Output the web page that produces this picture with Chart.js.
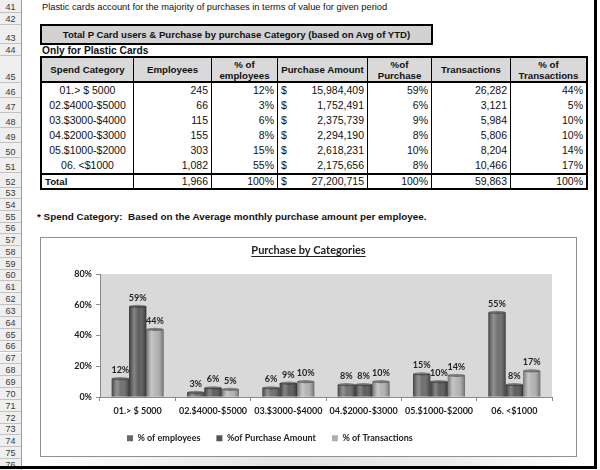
<!DOCTYPE html>
<html>
<head>
<meta charset="utf-8">
<title>Purchase by Categories</title>
<script src="https://cdn.jsdelivr.net/npm/chart.js@4.4.1/dist/chart.umd.min.js"></script>
<style>
  html, body { margin: 0; padding: 0; background: #fff; }
  #sheet { position: relative; width: 600px; height: 470px; overflow: hidden; background: #fff;
           font-family: "Liberation Sans", Arial, sans-serif; color: #111; }
  #rowHeads div { position: absolute; left: 0; width: 22px; box-sizing: border-box; background: #efefef;
                  border-right: 1px solid #9c9c9c; border-bottom: 1px solid #c2c2c2; font-size: 9px; line-height: 10px;
                  color: #3a3a3a; display: flex; align-items: flex-end; justify-content: center; }
  #intro { position: absolute; left: 42px; top: 2px; font-size: 9.3px; line-height: 11px; white-space: nowrap; }
  #banner { position: absolute; left: 40px; top: 24px; width: 393px; height: 21px; box-sizing: border-box;
            border: 2px solid #000; background: #d2d2d2; font-weight: bold; font-size: 9.6px;
            text-align: center; line-height: 17px; white-space: nowrap; }
  #onlyPlastic { position: absolute; left: 42px; top: 45px; font-weight: bold; font-size: 10.2px; line-height: 12px; }
  #tbl { position: absolute; left: 40px; top: 56px; width: 548px; border-collapse: separate; border-spacing: 0;
         border: 2px solid #000; table-layout: fixed; box-sizing: border-box; }
  #tbl th, #tbl td { box-sizing: border-box; border-right: 1px solid #000; padding: 0 3px; white-space: nowrap; overflow: hidden; }
  #tbl th:last-child, #tbl td:last-child { border-right: none; }
  #tbl th { height: 25px; background: #d9d9d9; border-bottom: 2px solid #000; font-size: 9.7px; line-height: 11px;
            font-weight: bold; text-align: center; }
  #tbl td { height: 15px; font-family: "Liberation Sans Narrow", "Liberation Sans", sans-serif; font-size: 10.5px;
            line-height: 13px; text-align: right; }
  #tbl td.cat { text-align: center; }
  #tbl tr.total td { border-top: 2px solid #000; }
  #tbl tr.total td.cat { text-align: left; font-family: "Liberation Sans", Arial, sans-serif; font-weight: bold; font-size: 9.7px; }
  #tbl .cur { float: left; }
  #note { position: absolute; left: 37px; top: 211px; font-weight: bold; font-size: 9.9px; line-height: 12px; white-space: nowrap; }
  #chartBox { position: absolute; left: 40px; top: 237px; width: 537px; height: 220px; box-sizing: border-box;
              border: 1px solid #8f8f8f; background: #fff; }
  #shadow { position: absolute; left: 40px; top: 457px; width: 537px; height: 9px;
            background: linear-gradient(90deg, #fff 0%, #dcdcdc 45%, #e8e8e8 75%, #fff 100%); opacity: 0.8; }
  #chartWrap { position: absolute; left: 40px; top: 238px; width: 537px; height: 218px; }
  #frameR { position: absolute; left: 594px; top: 0; width: 3px; height: 469px; background: #000; }
  #frameB { position: absolute; left: 0; top: 466px; width: 597px; height: 3px; background: #000; }
</style>
</head>
<body>
<div id="sheet">
  <div id="rowHeads"></div>
  <div id="intro">Plastic cards account for the majority of purchases in terms of value for given period</div>
  <div id="banner">Total P Card users &amp; Purchase by purchase Category (based on Avg of YTD)</div>
  <div id="onlyPlastic">Only for Plastic Cards</div>
  <table id="tbl"></table>
  <div id="note">* Spend Category:&nbsp; Based on the Average monthly purchase amount per employee.</div>
  <div id="chartBox"></div>
  <div id="shadow"></div>
  <div id="chartWrap"><canvas id="purchaseChart" width="537" height="218"></canvas></div>
  <div id="frameR"></div>
  <div id="frameB"></div>
</div>

<script>
// data from the sheet
const categories = ['01.> $ 5000', '02.$4000-$5000', '03.$3000-$4000', '04.$2000-$3000', '05.$1000-$2000', '06. <$1000'];
const employees = [245, 66, 115, 155, 303, 1082];
const pctEmployees = [12, 3, 6, 8, 15, 55];
const purchaseAmount = [15984409, 1752491, 2375739, 2294190, 2618231, 2175656];
const pctPurchase = [59, 6, 9, 8, 10, 8];
const transactions = [26282, 3121, 5984, 5806, 8204, 10466];
const pctTransactions = [44, 5, 10, 10, 14, 17];
const totalRow = ['1,966', '100%', '27,200,715', '100%', '59,863', '100%'];
const headers = ['Spend Category', 'Employees', '% of<br>employees', 'Purchase Amount', '%of<br>Purchase', 'Transactions', '% of<br>Transactions'];
const seriesNames = ['% of employees', '%of Purchase Amount', '% of Transactions'];
const yTicks = [0, 20, 40, 60, 80];

// sheet row numbers down the left side
const rowNumbers = [41, 42, 43, 44, 45, 46, 47, 48, 49, 50, 51, 52, 53, 54, 55, 56,
                    57, 58, 59, 60, 61, 62, 63, 64, 65, 66, 67, 68, 69, 70, 71, 72, 73, 74, 75, 76];
const rowHeights = [13, 12, 19, 12, 27, 15, 15, 15, 15, 15, 15, 15, 11, 12, 12, 11];
const chartRowHeight = 11.85;

const fmt = n => n.toLocaleString('en-US');

document.addEventListener('DOMContentLoaded', function() {
    // row headers
    const rowHeads = document.getElementById('rowHeads');
    let top = 0;
    rowNumbers.forEach((num, i) => {
        const h = i < rowHeights.length ? rowHeights[i] : chartRowHeight;
        const cell = document.createElement('div');
        cell.style.top = top + 'px';
        cell.style.height = h + 'px';
        cell.textContent = num;
        rowHeads.appendChild(cell);
        top += h;
    });

    // table
    const colWidths = [92, 78, 66, 90, 64, 79, 75];
    let html = '<tr>' + headers.map((h, i) => `<th style="width:${colWidths[i]}px">${h}</th>`).join('') + '</tr>';
    categories.forEach((cat, i) => {
        html += '<tr>' +
            `<td class="cat">${cat.replace('<', '&lt;')}</td>` +
            `<td>${fmt(employees[i])}</td>` +
            `<td>${pctEmployees[i]}%</td>` +
            `<td><span class="cur">$</span>${fmt(purchaseAmount[i])}</td>` +
            `<td>${pctPurchase[i]}%</td>` +
            `<td>${fmt(transactions[i])}</td>` +
            `<td>${pctTransactions[i]}%</td>` +
            '</tr>';
    });
    html += '<tr class="total"><td class="cat">Total</td>' +
        `<td>${totalRow[0]}</td><td>${totalRow[1]}</td>` +
        `<td><span class="cur">$</span>${totalRow[2]}</td>` +
        `<td>${totalRow[3]}</td><td>${totalRow[4]}</td><td>${totalRow[5]}</td></tr>`;
    document.getElementById('tbl').innerHTML = html;

    initPurchaseChart();
});

// gray plot area
const plotBackground = {
    id: 'plotBackground',
    beforeDraw(chart) {
        const { ctx, chartArea: a } = chart;
        ctx.save();
        ctx.fillStyle = '#d9d9d9';
        ctx.fillRect(a.left, a.top, a.right - a.left, a.bottom - a.top);
        ctx.restore();
    }
};

// cylinder shading + value labels
const cylinderBars = {
    id: 'cylinderBars',
    afterDatasetsDraw(chart) {
        const ctx = chart.ctx;
        ctx.save();
        chart.data.datasets.forEach((ds, i) => {
            chart.getDatasetMeta(i).data.forEach(bar => {
                const p = bar.getProps(['x', 'y', 'base', 'width'], true);
                const left = p.x - p.width / 2;
                const g = ctx.createLinearGradient(left, 0, left + p.width, 0);
                g.addColorStop(0, 'rgba(0,0,0,0.35)');
                g.addColorStop(0.3, 'rgba(255,255,255,0.28)');
                g.addColorStop(0.55, 'rgba(255,255,255,0.05)');
                g.addColorStop(1, 'rgba(0,0,0,0.4)');
                ctx.fillStyle = g;
                ctx.fillRect(left, p.y, p.width, p.base - p.y);
                ctx.beginPath();
                ctx.ellipse(p.x, p.y, p.width / 2, 1.6, 0, 0, Math.PI * 2);
                ctx.fillStyle = 'rgba(40,40,40,0.5)';
                ctx.fill();
            });
        });
        ctx.font = 'bold 9px Lato';
        ctx.fillStyle = '#222';
        ctx.textAlign = 'center';
        ctx.textBaseline = 'bottom';
        chart.data.datasets.forEach((ds, i) => {
            chart.getDatasetMeta(i).data.forEach((bar, j) => {
                ctx.fillText(ds.data[j] + '%', bar.x, bar.y - 4);
            });
        });
        ctx.restore();
    }
};

// underline under the chart title
const titleUnderline = {
    id: 'titleUnderline',
    afterDraw(chart) {
        const t = chart.titleBlock;
        const opts = chart.options.plugins.title;
        const ctx = chart.ctx;
        ctx.save();
        ctx.font = `bold ${opts.font.size}px Lato`;
        const w = ctx.measureText(opts.text).width;
        const cx = (t.left + t.right) / 2;
        const y = Math.round(t.top + opts.padding.top + opts.font.size * 0.6 + 5) + 0.5;
        ctx.strokeStyle = '#222';
        ctx.lineWidth = 1;
        ctx.beginPath();
        ctx.moveTo(cx - w / 2, y);
        ctx.lineTo(cx + w / 2, y);
        ctx.stroke();
        ctx.restore();
    }
};

// nudge the legend row a little to the right, like the sheet
const legendNudge = {
    id: 'legendNudge',
    afterLayout(chart) {
        chart.legend.left += 11;
        chart.legend.right += 11;
    }
};

let purchaseChart;

function initPurchaseChart() {
    Chart.defaults.font.family = 'Lato';
    Chart.defaults.color = '#222';

    const ctx = document.getElementById('purchaseChart');
    purchaseChart = new Chart(ctx, {
        type: 'bar',
        data: {
            labels: categories,
            datasets: [{
                label: seriesNames[0],
                data: pctEmployees,
                backgroundColor: '#686868'
            }, {
                label: seriesNames[1],
                data: pctPurchase,
                backgroundColor: '#555555'
            }, {
                label: seriesNames[2],
                data: pctTransactions,
                backgroundColor: '#b0b0b0'
            }]
        },
        options: {
            responsive: false,
            animation: false,
            categoryPercentage: 0.69,
            barPercentage: 1.0,
            layout: {
                padding: { top: 0, right: 25, bottom: 3.2, left: 25 }
            },
            scales: {
                x: {
                    grid: {
                        drawOnChartArea: false,
                        drawTicks: true,
                        tickLength: 4,
                        color: '#8a8a8a'
                    },
                    border: { color: '#8a8a8a' },
                    ticks: {
                        padding: 5,
                        maxRotation: 0,
                        minRotation: 0,
                        autoSkip: false,
                        font: { size: 9, weight: 'bold' },
                        color: '#222'
                    },
                    afterFit: function(scale) {
                        scale.height = 20.8;
                    }
                },
                y: {
                    min: 0,
                    max: 80,
                    grid: {
                        drawOnChartArea: false,
                        tickLength: 4,
                        color: '#8a8a8a'
                    },
                    border: { color: '#8a8a8a' },
                    ticks: {
                        padding: 4,
                        font: { size: 9, weight: 'bold' },
                        color: '#222',
                        callback: function(value) {
                            return value + '%';
                        }
                    },
                    afterBuildTicks: function(scale) {
                        scale.ticks = yTicks.map(v => ({ value: v }));
                    },
                    afterFit: function(scale) {
                        scale.width = 35;
                    }
                }
            },
            plugins: {
                title: {
                    display: true,
                    text: 'Purchase by Categories',
                    font: { size: 11, weight: 'bold' },
                    color: '#222',
                    padding: { top: 6, bottom: 16.8 }
                },
                legend: {
                    position: 'bottom',
                    align: 'start',
                    fullSize: false,
                    labels: {
                        boxWidth: 6,
                        boxHeight: 6,
                        padding: 16,
                        font: { size: 9, weight: 'bold' },
                        color: '#222'
                    }
                },
                tooltip: { enabled: false }
            }
        },
        plugins: [plotBackground, cylinderBars, titleUnderline, legendNudge]
    });
}
</script>
</body>
</html>
